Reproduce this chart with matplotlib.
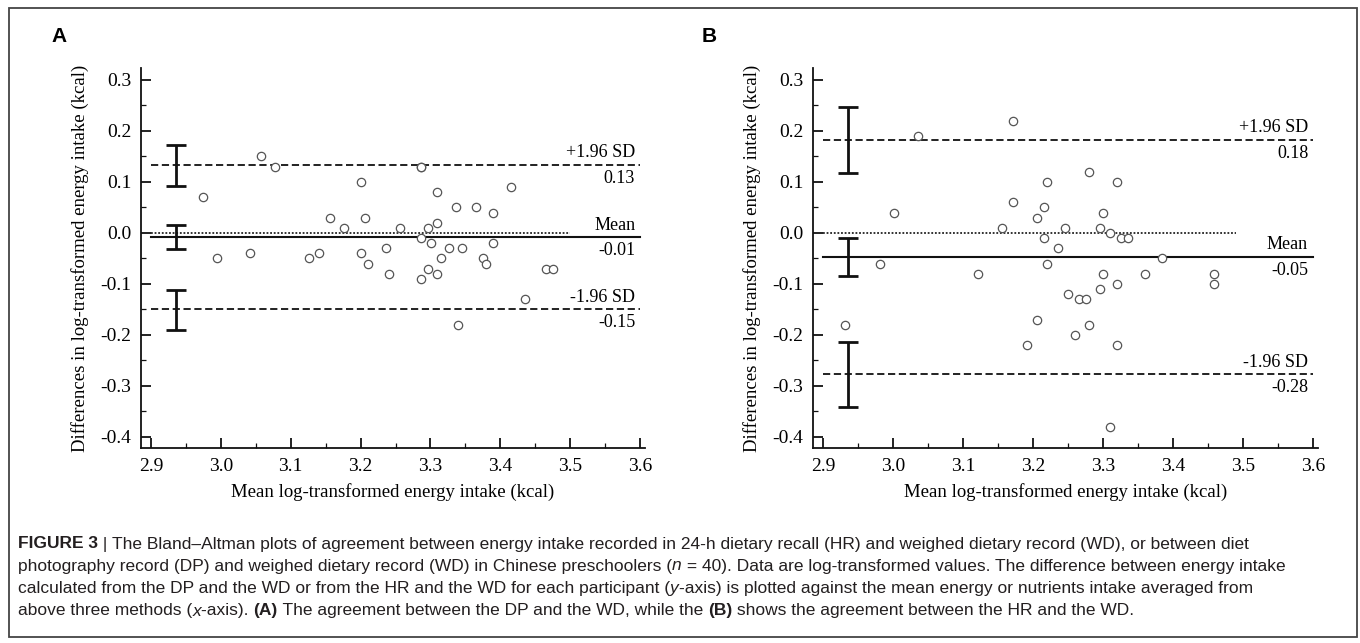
import matplotlib
matplotlib.use("Agg")
import matplotlib.pyplot as plt
from matplotlib.patches import Rectangle
from matplotlib.ticker import MultipleLocator, FormatStrFormatter

# ---------------- data ----------------
# Panel A: DP vs WD
a_mean = [2.975, 2.995, 3.042, 3.057, 3.077, 3.126, 3.141, 3.156, 3.176, 3.200,
          3.200, 3.206, 3.211, 3.236, 3.241, 3.256, 3.286, 3.416, 3.310, 3.336,
          3.365, 3.390, 3.296, 3.310, 3.286, 3.301, 3.326, 3.345, 3.390, 3.315,
          3.375, 3.380, 3.296, 3.310, 3.286, 3.465, 3.475, 3.435, 3.340, 3.286]
a_diff = [0.07, -0.05, -0.04, 0.15, 0.13, -0.05, -0.04, 0.03, 0.01, 0.10,
          -0.04, 0.03, -0.06, -0.03, -0.08, 0.01, 0.13, 0.09, 0.08, 0.05,
          0.05, 0.04, 0.01, 0.02, -0.01, -0.02, -0.03, -0.03, -0.02, -0.05,
          -0.05, -0.06, -0.07, -0.08, -0.09, -0.07, -0.07, -0.13, -0.18, 0.13]
a_lines = [0.134, -0.008, -0.150]          # +1.96 SD, mean, -1.96 SD
a_line_labels = ["+1.96 SD", "Mean", "-1.96 SD"]
a_value_labels = ["0.13", "-0.01", "-0.15"]
a_ci_low = [0.093, -0.032, -0.190]
a_ci_high = [0.173, 0.015, -0.111]

# Panel B: HR vs WD
b_mean = [2.931, 2.981, 3.001, 3.036, 3.121, 3.156, 3.171, 3.171, 3.191, 3.205,
          3.205, 3.215, 3.215, 3.220, 3.220, 3.236, 3.245, 3.250, 3.280, 3.320,
          3.300, 3.295, 3.310, 3.325, 3.335, 3.384, 3.300, 3.360, 3.459, 3.459,
          3.320, 3.295, 3.265, 3.275, 3.280, 3.260, 3.320, 3.310]
b_diff = [-0.18, -0.06, 0.04, 0.19, -0.08, 0.01, 0.22, 0.06, -0.22, 0.03,
          -0.17, 0.05, -0.01, 0.10, -0.06, -0.03, 0.01, -0.12, 0.12, 0.10,
          0.04, 0.01, 0.00, -0.01, -0.01, -0.05, -0.08, -0.08, -0.08, -0.10,
          -0.10, -0.11, -0.13, -0.13, -0.18, -0.20, -0.22, -0.38]
b_lines = [0.183, -0.047, -0.277]
b_line_labels = ["+1.96 SD", "Mean", "-1.96 SD"]
b_value_labels = ["0.18", "-0.05", "-0.28"]
b_ci_low = [0.118, -0.085, -0.342]
b_ci_high = [0.248, -0.010, -0.213]

x_label = "Mean log-transformed energy intake (kcal)"
y_label = "Differences in log-transformed energy intake (kcal)"

# ---------------- figure ----------------
W, H = 1360, 643
fig = plt.figure(figsize=(W / 100, H / 100), dpi=100)
SERIF = ["Liberation Serif", "DejaVu Serif"]


def px_rect(left, top, right, bottom):
    return [left / W, 1 - bottom / H, (right - left) / W, (bottom - top) / H]


def panel(rect, xs, ys, lines, line_labels, value_labels, ci_lo, ci_hi,
          dotted_end, letter, letter_xy):
    ax = fig.add_axes(rect)
    ax.set_xlim(2.8857, 3.6071)
    ax.set_ylim(-0.4216, 0.3235)
    for s in ("top", "right"):
        ax.spines[s].set_visible(False)
    for s in ("left", "bottom"):
        ax.spines[s].set_linewidth(1.3)
        ax.spines[s].set_color("#111111")
    ax.xaxis.set_major_locator(MultipleLocator(0.1))
    ax.xaxis.set_minor_locator(MultipleLocator(0.05))
    ax.yaxis.set_major_locator(MultipleLocator(0.1))
    ax.yaxis.set_minor_locator(MultipleLocator(0.05))
    ax.xaxis.set_major_formatter(FormatStrFormatter("%.1f"))
    ax.yaxis.set_major_formatter(FormatStrFormatter("%.1f"))
    ax.tick_params(which="major", direction="in", length=7, width=1.3,
                   labelsize=14, pad=7, color="#111111")
    ax.tick_params(which="minor", direction="in", length=3.6, width=0.9,
                   color="#111111")
    for lab in ax.get_xticklabels() + ax.get_yticklabels():
        lab.set_family(SERIF)
    ax.set_xlabel(x_label, fontsize=13.5, family=SERIF, labelpad=6)
    ax.set_ylabel(y_label, fontsize=13.5, family=SERIF, labelpad=8)

    # zero reference (dotted)
    ax.plot([2.9, dotted_end], [0, 0], color="#222222", lw=1.3,
            linestyle=(0, (1, 1)))
    # limits and mean
    styles = ["--", "-", "--"]
    for val, st in zip(lines, styles):
        ax.plot([2.9, 3.6], [val, val], color="#111111",
                lw=1.5 if st == "-" else 1.3,
                linestyle=st if st == "-" else (0, (4, 2)))
    for val, top_txt, bot_txt in zip(lines, line_labels, value_labels):
        ax.annotate(top_txt, (3.593, val), xytext=(0, 2.5),
                    textcoords="offset points", ha="right", va="bottom",
                    fontsize=13, family=SERIF)
        ax.annotate(bot_txt, (3.593, val), xytext=(0, -3.5),
                    textcoords="offset points", ha="right", va="top",
                    fontsize=13, family=SERIF)
    # confidence intervals
    centers = [(lo + hi) / 2 for lo, hi in zip(ci_lo, ci_hi)]
    errs = [(hi - lo) / 2 for lo, hi in zip(ci_lo, ci_hi)]
    ax.errorbar([2.936] * len(centers), centers, yerr=errs, fmt="none",
                ecolor="#111111", elinewidth=2.0, capsize=7, capthick=2.0)
    # data points
    ax.plot(xs, ys, linestyle="none", marker="o", markersize=6,
            markerfacecolor="white", markeredgecolor="#555555",
            markeredgewidth=0.9)
    fig.text(letter_xy[0] / W, 1 - letter_xy[1] / H, letter,
             fontsize=15, fontweight="bold", family=["Liberation Sans", "DejaVu Sans"],
             ha="left", va="center")
    return ax


axA = panel(px_rect(141, 68, 645, 448), a_mean, a_diff, a_lines, a_line_labels,
            a_value_labels, a_ci_low, a_ci_high, 3.5, "A", (51, 36))
axB = panel(px_rect(813, 68, 1318, 448), b_mean, b_diff, b_lines, b_line_labels,
            b_value_labels, b_ci_low, b_ci_high, 3.49, "B", (702, 36))

# outer frame
fig.patches.append(Rectangle((9 / W, 1 - 637 / H), (1357 - 9) / W, (637 - 8) / H,
                             transform=fig.transFigure, fill=False,
                             edgecolor="#444444", lw=1.3))

# ---------------- caption ----------------
CAP = ["Liberation Sans Narrow", "Liberation Sans", "DejaVu Sans"]
caption_lines = [
    [("FIGURE 3", "bold", "normal"), (" | ", "normal", "normal"),
     ("The Bland\u2013Altman plots of agreement between energy intake recorded in 24-h dietary recall (HR) "
      "and weighed dietary record (WD), or between diet", "normal", "normal")],
    [("photography record (DP) and weighed dietary record (WD) in Chinese preschoolers (", "normal", "normal"),
     ("n", "normal", "italic"),
     (" = 40). Data are log-transformed values. The difference between energy intake", "normal", "normal")],
    [("calculated from the DP and the WD or from the HR and the WD for each participant (", "normal", "normal"),
     ("y", "normal", "italic"),
     ("-axis) is plotted against the mean energy or nutrients intake averaged from", "normal", "normal")],
    [("above three methods (", "normal", "normal"), ("x", "normal", "italic"),
     ("-axis). ", "normal", "normal"), ("(A)", "bold", "normal"),
     (" The agreement between the DP and the WD, while the ", "normal", "normal"),
     ("(B)", "bold", "normal"),
     (" shows the agreement between the HR and the WD.", "normal", "normal")],
]
caption_y = [544, 566, 589, 611]
caption_targets = [1305, 1313, 1286, 1114]

renderer = fig.canvas.get_renderer()


def line_width(segs, size):
    total = 0
    tmp = []
    for txt, wt, st in segs:
        t = fig.text(0, 0, txt, fontsize=size, fontweight=wt, fontstyle=st, family=CAP)
        total += t.get_window_extent(renderer).width
        tmp.append(t)
    for t in tmp:
        t.remove()
    return total


base = 12.0
cap_size = min(base * tgt / line_width(segs, base)
               for segs, tgt in zip(caption_lines, caption_targets))

for segs, yy in zip(caption_lines, caption_y):
    x = 18
    for txt, wt, st in segs:
        t = fig.text(x / W, 1 - yy / H, txt, fontsize=cap_size, fontweight=wt,
                     fontstyle=st, family=CAP, color="#231f20",
                     ha="left", va="center")
        x += t.get_window_extent(renderer).width

fig.savefig("out.png", dpi=100)
